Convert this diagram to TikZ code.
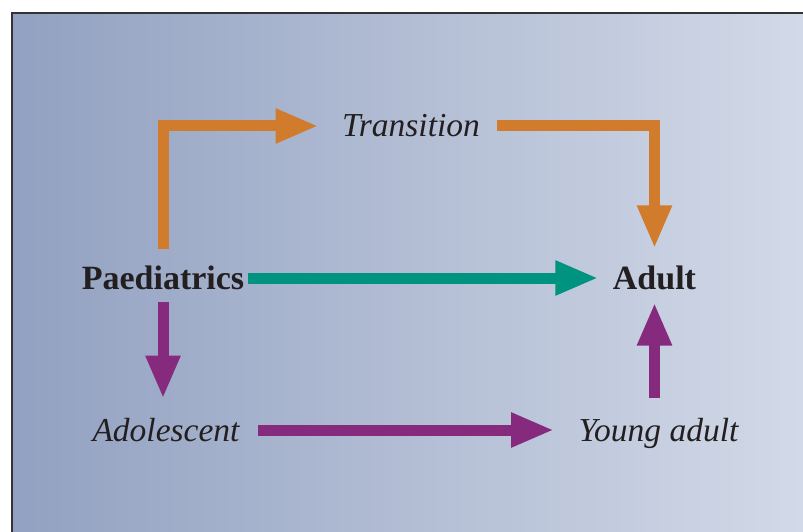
\documentclass[tikz,border=0pt]{standalone}
\usepackage{fontspec}
\setmainfont{Liberation Serif}
\usetikzlibrary{arrows.meta}
\definecolor{bgleft}{HTML}{92A1C1}
\definecolor{bgright}{HTML}{D3DAE8}
\definecolor{corange}{HTML}{D07C2C}
\definecolor{cteal}{HTML}{00937F}
\definecolor{cpurple}{HTML}{862A7E}
\definecolor{ctext}{HTML}{231F20}
\tikzset{
  lbl/.style={text=ctext, font=\fontsize{33.5}{38}\selectfont\itshape, inner sep=3.3pt},
  blbl/.style={text=ctext, font=\fontsize{34}{38}\selectfont\bfseries, inner sep=3.3pt},
  fatarrow/.style={line width=11pt, -{Triangle[length=43pt,width=32pt]}},
}
\begin{document}
\begin{tikzpicture}[x=1pt,y=-1pt]
\useasboundingbox (0,0) rectangle (803,532);
\shade[left color=bgleft, right color=bgright] (12,13) rectangle (812,542);
\draw[line width=1.4pt, draw=black!80] (12,542) -- (12,13) -- (812,13);
\node[blbl] (P) at (163,278) {Paediatrics};
\node[blbl] (A) at (654.5,278) {Adult};
\node[lbl] (T) at (411,126) {Transition};
\node[lbl] (Ad) at (166,430) {Adolescent};
\node[lbl] (Y) at (658.5,433) {Young adult};
\draw[fatarrow, corange, shorten <=14pt, shorten >=20pt] (P.north) |- (T.west);
\draw[fatarrow, corange, shorten <=14pt, shorten >=14pt] (T.east) -| (A.north);
\draw[fatarrow, cteal, shorten >=11pt] (P.east) -- (A.west);
\draw[fatarrow, cpurple, shorten <=9pt, shorten >=16pt] (P.south) -- (P.south |- Ad.north);
\draw[fatarrow, cpurple, shorten <=15pt, shorten >=21pt] (Ad.east) -- (Ad.east -| Y.west);
\draw[fatarrow, cpurple, shorten <=16pt, shorten >=9pt] (A.south |- Y.north) -- (A.south);
\end{tikzpicture}
\end{document}
